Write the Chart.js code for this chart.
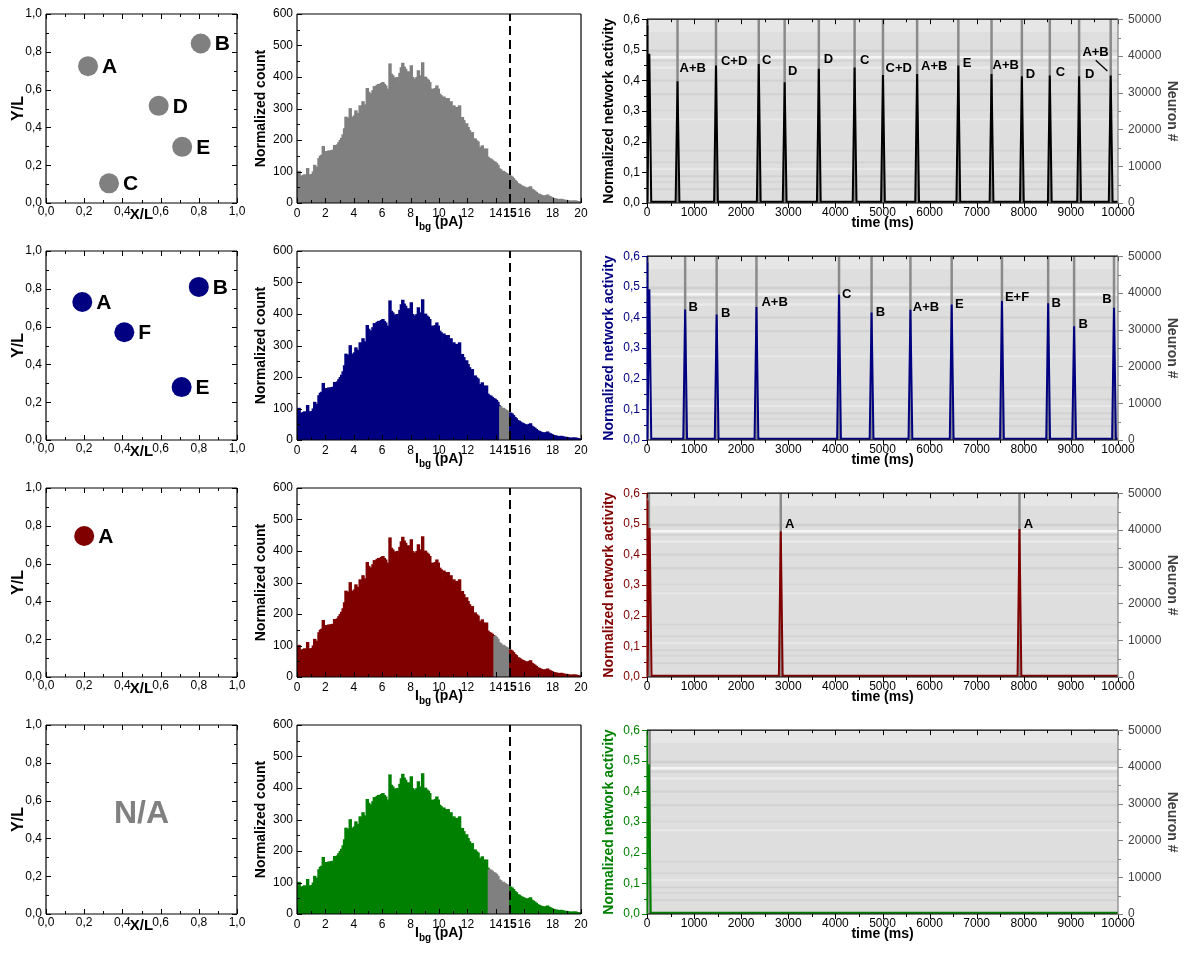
<!DOCTYPE html>
<html>
<head>
<meta charset="utf-8">
<script src="https://cdn.jsdelivr.net/npm/chart.js@4.4.1/dist/chart.umd.min.js"></script>
<style>
  body { margin: 0; background: #fff; }
  #wrap { position: relative; width: 1186px; height: 956px; overflow: hidden; }
  #wrap canvas { position: absolute; }
</style>
</head>
<body>
<div id="wrap"></div>
<script>
// Four rows of panels: stimulation sites, I_bg histogram, network activity over the raster.
var FONT = "'Liberation Sans', Arial, Helvetica, sans-serif";

var ROW_TOP = [14, 251, 488, 725];
var PLOT_H = 189;
var ROW_COLORS = ['#808080', '#000080', '#800000', '#008000'];
var TRACE_COLORS = ['#000000', '#000080', '#800000', '#008000'];
var GRAY = '#808080';

// left column: site positions (X/L, Y/L)
var SITE_X = [[0.22, 0.81, 0.59, 0.713, 0.33], [0.19, 0.80, 0.41, 0.71], [0.20], []];
var SITE_Y = [[0.724, 0.844, 0.514, 0.297, 0.104], [0.73, 0.81, 0.57, 0.28], [0.746], []];
var SITE_NAMES = [['A', 'B', 'D', 'E', 'C'], ['A', 'B', 'F', 'E'], ['A'], []];

// middle column: histogram of background currents, 0.1 pA bins from 0 to 20 pA
var HIST_BIN_W = 0.1;
var HIST_TICKS = [0, 2, 4, 6, 8, 10, 12, 14, 15, 16, 18, 20];
var HIST_COUNTS = [
  97, 99, 84, 80, 86, 88, 85, 108, 88, 86,
  89, 97, 118, 108, 112, 139, 147, 150, 178, 160,
  162, 158, 164, 160, 165, 166, 181, 172, 183, 190,
  197, 204, 215, 234, 271, 268, 265, 298, 253, 271,
  275, 291, 277, 283, 307, 288, 320, 310, 307, 362,
  350, 340, 345, 355, 368, 360, 372, 375, 368, 378,
  381, 375, 370, 360, 349, 440, 407, 402, 395, 386,
  397, 376, 410, 428, 442, 430, 423, 402, 415, 404,
  434, 397, 386, 392, 397, 418, 402, 395, 444, 386,
  398, 392, 388, 381, 349, 360, 351, 362, 370, 360,
  344, 339, 307, 335, 330, 297, 330, 312, 320, 297,
  307, 300, 302, 296, 307, 265, 270, 260, 244, 250,
  238, 228, 218, 222, 186, 202, 196, 192, 170, 175,
  180, 170, 168, 170, 144, 139, 138, 134, 130, 128,
  124, 118, 107, 104, 97, 99, 95, 92, 90, 86,
  84, 81, 76, 70, 66, 60, 58, 55, 52, 50,
  48, 46, 44, 48, 50, 42, 39, 36, 32, 28,
  26, 24, 22, 21, 19, 22, 24, 20, 18, 16,
  13, 12, 11, 10, 9, 10, 10, 8, 7, 7,
  6, 5, 4, 4, 5, 4, 5, 3, 2, 2
];
var GRAY_FROM = [0, 14.3, 13.9, 13.5];
var GRAY_TO = [20, 15.0, 15.0, 15.0];
var THRESHOLD = 15;

// right column: bursts (time in ms, normalized activity)
var START_V = [0.58, 0.58, 0.576, 0.6];
var TRACE_BASE = 0.004;
var PEAK_HALF_WIDTH = 40;
var PEAK_T = [
  [50, 648, 1465, 2373, 2923, 3648, 4408, 5010, 5735, 6610, 7315, 7959, 8552, 9174, 9845],
  [50, 810, 1479, 2324, 4077, 4768, 5593, 6469, 7536, 8517, 9068, 9915],
  [56, 2840, 7908],
  [40]
];
var PEAK_V = [
  [0.487, 0.397, 0.449, 0.454, 0.394, 0.438, 0.442, 0.418, 0.421, 0.449, 0.421, 0.414, 0.416, 0.414, 0.416],
  [0.492, 0.426, 0.41, 0.434, 0.474, 0.416, 0.425, 0.442, 0.454, 0.446, 0.371, 0.432],
  [0.486, 0.475, 0.483],
  [0.489]
];
var RASTER_T = [
  [15, 648, 1465, 2373, 2923, 3648, 4408, 5010, 5735, 6610, 7315, 7959, 8552, 9174, 9845],
  [15, 810, 1479, 2324, 4077, 4768, 5593, 6469, 7536, 8517, 9068, 9915],
  [40, 2840, 7908],
  [56]
];
var LABEL_TEXT = [
  ['A+B', 'C+D', 'C', 'D', 'D', 'C', 'C+D', 'A+B', 'E', 'A+B', 'D', 'C', 'D', 'A+B'],
  ['B', 'B', 'A+B', 'C', 'B', 'A+B', 'E', 'E+F', 'B', 'B', 'B'],
  ['A', 'A'],
  []
];
var LABEL_T = [
  [690, 1570, 2444, 2993, 3754, 4521, 5064, 5819, 6702, 7338, 8044, 8680, 9301, 9244],
  [880, 1570, 2430, 4141, 4859, 5642, 6540, 7599, 8587, 9159, 9667],
  [2930, 8000],
  []
];
var LABEL_V = [
  [0.438, 0.461, 0.467, 0.429, 0.469, 0.465, 0.44, 0.447, 0.456, 0.45, 0.42, 0.426, 0.42, 0.493],
  [0.434, 0.413, 0.449, 0.476, 0.418, 0.434, 0.442, 0.466, 0.447, 0.378, 0.46],
  [0.499, 0.499],
  []
];
var LEADER_T = [[9527, 9774], [], [], []];
var LEADER_V = [[0.466, 0.431], [], [], []];
// lighter / darker stripes of the spike raster (neuron index ranges)
var NEURON_BANDS = [
  [46500, 50000, '#e6e6e6'],
  [41000, 41700, '#d0d0d0'],
  [39300, 40000, '#f4f4f4'],
  [38400, 39000, '#d3d3d3'],
  [36500, 37200, '#e9e9e9'],
  [33000, 33600, '#d2d2d2'],
  [29300, 29900, '#d2d2d2'],
  [25000, 25400, '#d7d7d7'],
  [22500, 23000, '#e8e8e8'],
  [14000, 14500, '#d5d5d5'],
  [10800, 11300, '#d3d3d3'],
  [9000, 9500, '#e8e8e8'],
  [7000, 7500, '#d1d1d1'],
  [5500, 6000, '#d5d5d5'],
  [3500, 4000, '#d2d2d2']
];

Chart.defaults.font.family = FONT;
Chart.defaults.color = '#000';
Chart.defaults.animation = false;

function comma1(v) { return Number(v).toFixed(1).replace('.', ','); }
function plainNum(v) { return String(v); }

function makeCanvas(left, top, w, h) {
  var c = document.createElement('canvas');
  c.width = w; c.height = h;
  c.style.left = left + 'px'; c.style.top = top + 'px';
  c.style.width = w + 'px'; c.style.height = h + 'px';
  document.getElementById('wrap').appendChild(c);
  return c;
}

// inward/outward tick marks and the box around each plot
var frameTicks = {
  id: 'frameTicks',
  afterDraw: function(chart, args, o) {
    var ctx = chart.ctx, a = chart.chartArea;
    ctx.save();
    ctx.lineWidth = 1;
    (o.sides || []).forEach(function(s) {
      var sc = chart.scales[s.scale];
      var n = Math.round((sc.max - sc.min) / s.minor);
      var every = Math.round(s.major / s.minor);
      var sign = s.dir === 'in' ? 1 : -1;
      ctx.strokeStyle = s.color || '#000';
      ctx.beginPath();
      for (var k = 0; k <= n; k++) {
        var v = sc.min + k * s.minor;
        var len = k % every === 0 ? 5 : 3;
        if (s.side === 'bottom' || s.side === 'top') {
          var px = Math.round(sc.getPixelForValue(v)) + 0.5;
          var y0 = s.side === 'bottom' ? a.bottom : a.top;
          var dy = (s.side === 'bottom' ? -1 : 1) * sign * len;
          ctx.moveTo(px, y0); ctx.lineTo(px, y0 + dy);
        } else {
          var py = Math.round(sc.getPixelForValue(v)) + 0.5;
          var x0 = s.side === 'left' ? a.left : a.right;
          var dx = (s.side === 'left' ? 1 : -1) * sign * len;
          ctx.moveTo(x0, py); ctx.lineTo(x0 + dx, py);
        }
      }
      ctx.stroke();
    });
    var f = o.frame || {};
    ctx.lineWidth = 1.2;
    [['top', a.left, a.top, a.right, a.top],
     ['bottom', a.left, a.bottom, a.right, a.bottom],
     ['left', a.left, a.top, a.left, a.bottom],
     ['right', a.right, a.top, a.right, a.bottom]].forEach(function(e) {
      if (!f[e[0]]) return;
      ctx.strokeStyle = f[e[0]];
      ctx.beginPath(); ctx.moveTo(e[1], e[2]); ctx.lineTo(e[3], e[4]); ctx.stroke();
    });
    ctx.restore();
  }
};

var pointNames = {
  id: 'pointNames',
  afterDatasetsDraw: function(chart, args, o) {
    var ctx = chart.ctx;
    ctx.save();
    ctx.textAlign = 'left'; ctx.textBaseline = 'middle';
    if (o.names && o.names.length) {
      ctx.font = 'bold 21px ' + FONT; ctx.fillStyle = '#000';
      chart.getDatasetMeta(0).data.forEach(function(el, i) {
        ctx.fillText(o.names[i], el.x + 14, el.y + 1);
      });
    }
    if (o.empty) {
      ctx.font = 'bold 32px ' + FONT; ctx.fillStyle = GRAY; ctx.textAlign = 'center';
      ctx.fillText(o.empty, chart.scales.x.getPixelForValue(0.5), chart.scales.y.getPixelForValue(0.53));
    }
    ctx.restore();
  }
};

var subLabel = {
  id: 'subLabel',
  afterDraw: function(chart, args, o) {
    if (!o.main) return;
    var ctx = chart.ctx, a = chart.chartArea;
    var big = 'bold 14px ' + FONT, small = 'bold 10px ' + FONT;
    ctx.save();
    ctx.font = big; var w1 = ctx.measureText(o.main).width, w3 = ctx.measureText(o.rest).width;
    ctx.font = small; var w2 = ctx.measureText(o.sub).width;
    var x = (a.left + a.right) / 2 - (w1 + w2 + w3) / 2, y = a.bottom + 23;
    ctx.textAlign = 'left'; ctx.textBaseline = 'alphabetic'; ctx.fillStyle = '#000';
    ctx.font = big; ctx.fillText(o.main, x, y);
    ctx.font = small; ctx.fillText(o.sub, x + w1, y + 4);
    ctx.font = big; ctx.fillText(o.rest, x + w1 + w2, y);
    ctx.restore();
  }
};

var rasterBg = {
  id: 'rasterBg',
  beforeDatasetsDraw: function(chart, args, o) {
    if (!o.bands) return;
    var ctx = chart.ctx, a = chart.chartArea, y1 = chart.scales.y1;
    ctx.save();
    ctx.fillStyle = '#dedede';
    ctx.fillRect(a.left, a.top, a.right - a.left, a.bottom - a.top);
    o.bands.forEach(function(b) {
      var yt = y1.getPixelForValue(b[1]), yb = y1.getPixelForValue(b[0]);
      ctx.fillStyle = b[2];
      ctx.fillRect(a.left, yt, a.right - a.left, yb - yt);
    });
    ctx.restore();
  }
};

var burstNames = {
  id: 'burstNames',
  afterDatasetsDraw: function(chart, args, o) {
    if (!o.text) return;
    var ctx = chart.ctx, x = chart.scales.x, y = chart.scales.y;
    ctx.save();
    ctx.font = 'bold 13px ' + FONT; ctx.fillStyle = '#000';
    ctx.textAlign = 'left'; ctx.textBaseline = 'middle';
    o.text.forEach(function(t, i) {
      ctx.fillText(t, x.getPixelForValue(o.t[i]), y.getPixelForValue(o.v[i]));
    });
    ctx.restore();
  }
};

function plainGrid() { return { display: false, drawTicks: false }; }

function scatterChart(r) {
  var cv = makeCanvas(0, ROW_TOP[r] - 12, 250, 230);
  var pts = SITE_X[r].map(function(x, i) { return { x: x, y: SITE_Y[r][i] }; });
  new Chart(cv, {
    type: 'scatter',
    data: { datasets: [{ data: pts, backgroundColor: ROW_COLORS[r], borderWidth: 0, pointRadius: 10, pointHoverRadius: 10 }] },
    options: {
      responsive: false, events: [],
      layout: { padding: { top: 12, right: 13, left: 0, bottom: 0 } },
      plugins: {
        legend: { display: false }, tooltip: { enabled: false },
        pointNames: { names: SITE_NAMES[r], empty: SITE_X[r].length ? '' : 'N/A' },
        frameTicks: {
          frame: { top: '#000', bottom: '#000', left: '#000', right: '#000' },
          sides: [
            { scale: 'x', side: 'bottom', dir: 'in', major: 0.2, minor: 0.1 },
            { scale: 'x', side: 'top', dir: 'in', major: 0.2, minor: 0.1 },
            { scale: 'y', side: 'left', dir: 'in', major: 0.2, minor: 0.1 },
            { scale: 'y', side: 'right', dir: 'in', major: 0.2, minor: 0.1 }
          ]
        }
      },
      scales: {
        x: {
          type: 'linear', min: 0, max: 1,
          grid: plainGrid(), border: { display: false },
          ticks: { stepSize: 0.2, padding: 1, callback: comma1, font: { size: 12 }, color: '#000', maxRotation: 0 },
          title: { display: true, text: 'X/L', font: { size: 15, weight: 'bold' }, padding: { top: 0, bottom: 8 } },
          afterFit: function(s) { s.height = 29; }
        },
        y: {
          type: 'linear', min: 0, max: 1,
          grid: plainGrid(), border: { display: false },
          ticks: { stepSize: 0.2, padding: 4, callback: comma1, font: { size: 12 }, color: '#000' },
          title: { display: true, text: 'Y/L', font: { size: 16, weight: 'bold' }, padding: { top: 9, bottom: 0 } },
          afterFit: function(s) { s.width = 46; }
        }
      }
    },
    plugins: [frameTicks, pointNames]
  });
}

function histChart(r) {
  var cv = makeCanvas(250, ROW_TOP[r] - 12, 345, 230);
  var bars = HIST_COUNTS.map(function(v, i) { return { x: (i + 0.5) * HIST_BIN_W, y: v }; });
  new Chart(cv, {
    type: 'bar',
    data: { datasets: [
      { type: 'line', data: [{ x: THRESHOLD, y: 0 }, { x: THRESHOLD, y: 600 }], borderColor: '#000',
        borderWidth: 2, borderDash: [9, 5], pointRadius: 0, order: 0 },
      { type: 'bar', data: bars, barPercentage: 1, categoryPercentage: 1, borderWidth: 0, inflateAmount: 1, order: 1,
        backgroundColor: function(c) {
          var x = c.raw ? c.raw.x : 0;
          return (x > GRAY_FROM[r] && x < GRAY_TO[r]) ? GRAY : ROW_COLORS[r];
        } }
    ] },
    options: {
      responsive: false, events: [],
      layout: { padding: { top: 12, right: 14, left: 0, bottom: 0 } },
      plugins: {
        legend: { display: false }, tooltip: { enabled: false },
        subLabel: { main: 'I', sub: 'bg', rest: ' (pA)' },
        frameTicks: {
          frame: { top: '#000', bottom: '#000', left: '#000', right: '#000' },
          sides: [
            { scale: 'x', side: 'bottom', dir: 'in', major: 2, minor: 1 },
            { scale: 'y', side: 'left', dir: 'in', major: 100, minor: 50 }
          ]
        }
      },
      scales: {
        x: {
          type: 'linear', min: 0, max: 20, offset: false,
          grid: plainGrid(), border: { display: false },
          afterBuildTicks: function(s) { s.ticks = HIST_TICKS.map(function(v) { return { value: v }; }); },
          ticks: {
            autoSkip: false, maxRotation: 0, padding: 3, color: '#000',
            font: function(c) { return { size: 12, weight: c.tick && c.tick.value === THRESHOLD ? 'bold' : 'normal' }; },
            callback: plainNum
          },
          afterFit: function(s) { s.height = 29; }
        },
        y: {
          type: 'linear', min: 0, max: 600,
          grid: plainGrid(), border: { display: false },
          ticks: { stepSize: 100, padding: 4, font: { size: 12 }, color: '#000', callback: plainNum },
          title: { display: true, text: 'Normalized count', font: { size: 14, weight: 'bold' }, padding: { top: 3, bottom: 0 } },
          afterFit: function(s) { s.width = 47; }
        }
      }
    },
    plugins: [frameTicks, subLabel]
  });
}

function rasterChart(r) {
  var cv = makeCanvas(595, ROW_TOP[r] - 12, 591, 230);
  var trace = [{ x: 0, y: START_V[r] }, { x: 5, y: TRACE_BASE }];
  PEAK_T[r].forEach(function(t, i) {
    trace.push({ x: t - PEAK_HALF_WIDTH, y: TRACE_BASE }, { x: t, y: PEAK_V[r][i] }, { x: t + PEAK_HALF_WIDTH, y: TRACE_BASE });
  });
  trace.push({ x: 10000, y: TRACE_BASE });
  var raster = [];
  RASTER_T[r].forEach(function(t) { raster.push({ x: t, y: 0 }, { x: t, y: 50000 }, { x: t, y: null }); });
  var datasets = [
    { data: raster, yAxisID: 'y1', borderColor: '#8a8a8a', borderWidth: 2.5, pointRadius: 0, spanGaps: false, order: 3 },
    { data: trace, yAxisID: 'y', borderColor: TRACE_COLORS[r], borderWidth: 2, pointRadius: 0, order: 1 }
  ];
  if (LEADER_T[r].length) {
    datasets.push({ data: LEADER_T[r].map(function(t, i) { return { x: t, y: LEADER_V[r][i] }; }),
      yAxisID: 'y', borderColor: '#000', borderWidth: 1.3, pointRadius: 0, order: 0 });
  }
  var c = TRACE_COLORS[r];
  new Chart(cv, {
    type: 'line',
    data: { datasets: datasets },
    options: {
      responsive: false, events: [],
      layout: { padding: { top: 12, right: 0, left: 0, bottom: 0 } },
      plugins: {
        legend: { display: false }, tooltip: { enabled: false },
        rasterBg: { bands: NEURON_BANDS },
        burstNames: { text: LABEL_TEXT[r], t: LABEL_T[r], v: LABEL_V[r] },
        frameTicks: {
          frame: { top: '#000', bottom: '#000', left: c, right: '#808080' },
          sides: [
            { scale: 'x', side: 'top', dir: 'in', major: 1000, minor: 500 },
            { scale: 'x', side: 'bottom', dir: 'out', major: 1000, minor: 500 },
            { scale: 'y', side: 'left', dir: 'out', major: 0.1, minor: 0.05, color: c },
            { scale: 'y1', side: 'right', dir: 'out', major: 10000, minor: 5000, color: '#808080' }
          ]
        }
      },
      scales: {
        x: {
          type: 'linear', min: 0, max: 10000,
          grid: plainGrid(), border: { display: false },
          ticks: { stepSize: 1000, padding: 2, font: { size: 12 }, color: '#000', maxRotation: 0, autoSkip: false, callback: plainNum },
          title: { display: true, text: 'time (ms)', font: { size: 14, weight: 'bold' }, padding: { top: 0, bottom: 0 } },
          afterFit: function(s) { s.height = 29; }
        },
        y: {
          type: 'linear', position: 'left', min: 0, max: 0.6,
          grid: plainGrid(), border: { display: false },
          ticks: { stepSize: 0.1, padding: 7, callback: comma1, font: { size: 12 }, color: c },
          title: { display: true, text: 'Normalized network activity', color: c, font: { size: 14, weight: 'bold' }, padding: { top: 6, bottom: 0 } },
          afterFit: function(s) { s.width = 52; }
        },
        y1: {
          type: 'linear', position: 'right', min: 0, max: 50000,
          grid: plainGrid(), border: { display: false },
          ticks: { stepSize: 10000, padding: 10, font: { size: 12 }, color: '#404040', callback: plainNum },
          title: { display: true, text: 'Neuron #', color: '#404040', font: { size: 14, weight: 'bold' }, padding: { top: 6, bottom: 0 } },
          afterFit: function(s) { s.width = 68; }
        }
      }
    },
    plugins: [rasterBg, burstNames, frameTicks]
  });
}

for (var r = 0; r < 4; r++) {
  scatterChart(r);
  histChart(r);
  rasterChart(r);
}
</script>
</body>
</html>
